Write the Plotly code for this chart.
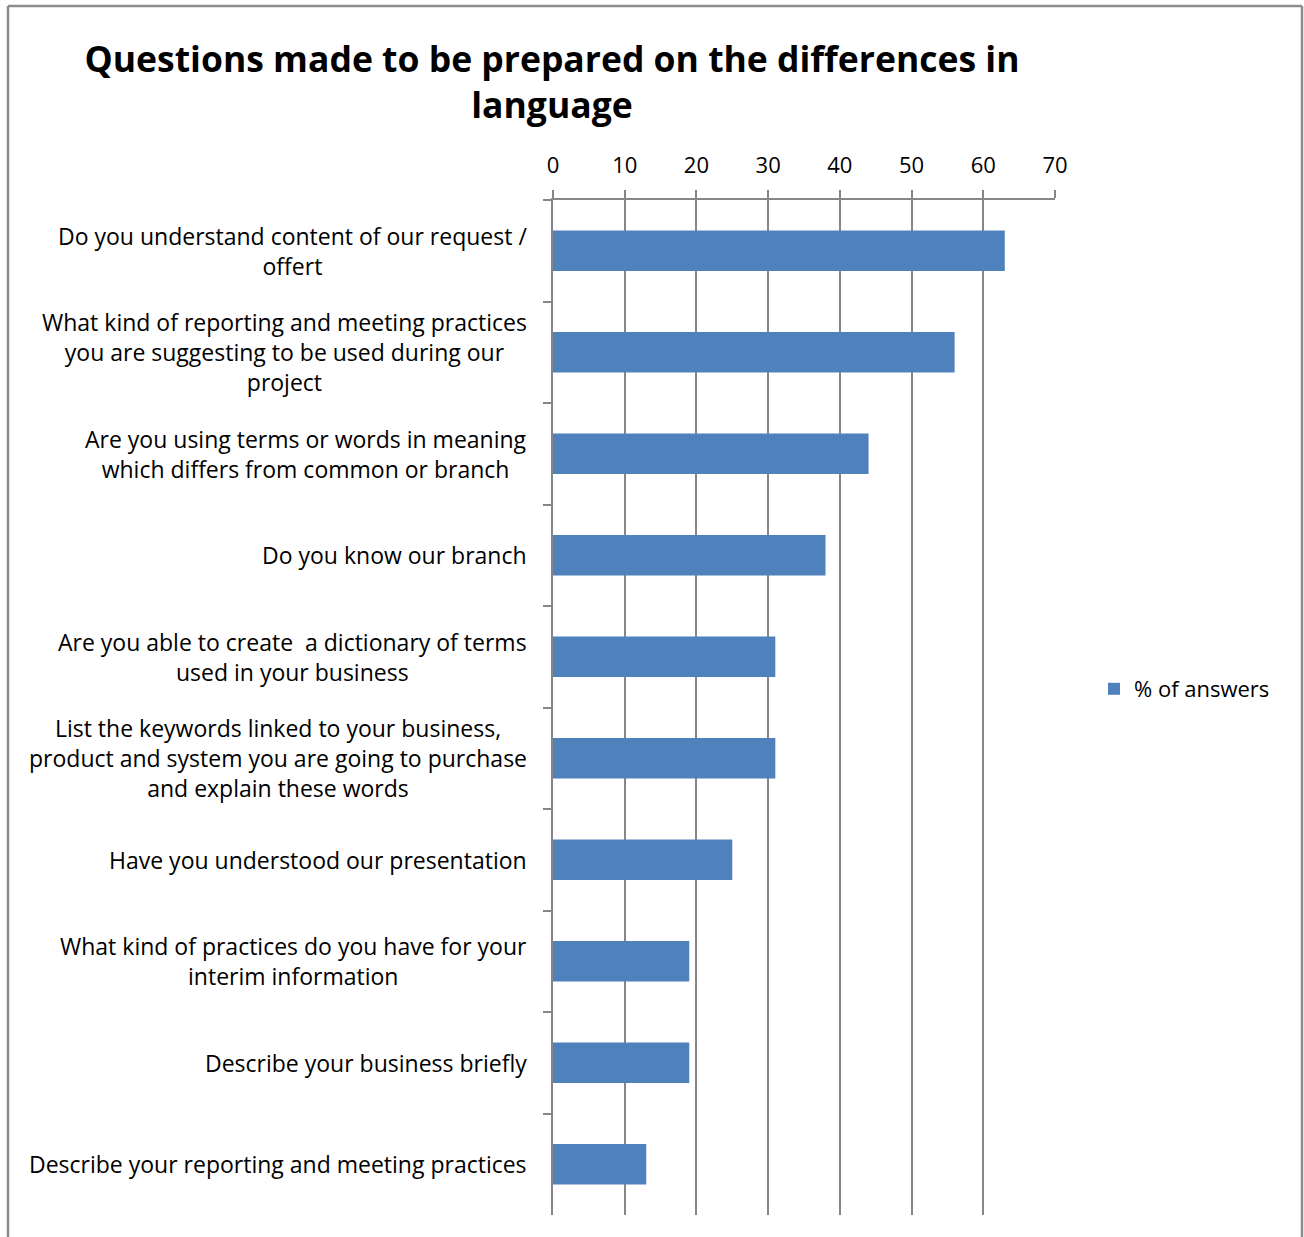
import plotly.graph_objects as go

# Survey questions (top to bottom) and share of answers in %
questions = [
    "Do you understand content of our request /<br>offert",
    "What kind of reporting and meeting practices<br>you are suggesting to be used during our<br>project",
    "Are you using terms or words in meaning<br>which differs from common or branch",
    "Do you know our branch",
    "Are you able to create  a dictionary of terms<br>used in your business",
    "List the keywords linked to your business,<br>product and system you are going to purchase<br>and explain these words",
    "Have you understood our presentation",
    "What kind of practices do you have for your<br>interim information",
    "Describe your business briefly",
    "Describe your reporting and meeting practices",
]
answers = [63, 56, 44, 38, 31, 31, 25, 19, 19, 13]
x_ticks = [0, 10, 20, 30, 40, 50, 60, 70]

W, H = 1304, 1237
L, R, T, B = 553, 249, 200, 22
pw, ph = W - L - R, H - T - B

FONT = "Open Sans"
GRID = "#868686"

fig = go.Figure()
fig.add_trace(go.Bar(
    x=answers, y=questions, orientation="h",
    name="% of answers",
    marker=dict(color="#4F81BD", line=dict(width=0)),
))

# Category labels: right-aligned block, lines centred inside it
annotations = []
for q in questions:
    annotations.append(dict(
        x=0, xref="paper", y=q, yref="y",
        text=q, showarrow=False, xanchor="right", yanchor="middle",
        align="center", xshift=-24,
        font=dict(family=FONT, size=23, color="#000000"),
    ))


def px_x(px):
    return (px - L) / pw


def px_y(py):
    return (H - B - py) / ph


# Outer chart frame (left, top, right)
frame = dict(type="line", xref="paper", yref="paper",
             line=dict(color="#8c8c8c", width=2.5))
shapes = [
    dict(frame, x0=px_x(8), x1=px_x(8), y0=px_y(6), y1=px_y(1240)),
    dict(frame, x0=px_x(8), x1=px_x(1302), y0=px_y(6), y1=px_y(6)),
    dict(frame, x0=px_x(1302), x1=px_x(1302), y0=px_y(6), y1=px_y(1240)),
]

fig.update_layout(
    width=W, height=H,
    margin=dict(l=L, r=R, t=T, b=B, autoexpand=False),
    paper_bgcolor="white", plot_bgcolor="white",
    bargap=0.6,
    showlegend=True,
    title=dict(
        text="Questions made to be prepared on the differences in<br>language",
        x=552 / W, xref="container", xanchor="center",
        y=1 - 72 / H, yref="container", yanchor="middle",
        font=dict(family=FONT, size=35.5, color="#000000", weight="bold"),
    ),
    legend=dict(
        xref="container", yref="container",
        x=1094 / W, y=1 - 689 / H, xanchor="left", yanchor="middle",
        font=dict(family=FONT, size=22, color="#000000"),
        itemwidth=30, bgcolor="rgba(0,0,0,0)",
    ),
    xaxis=dict(
        side="top", range=[0, 70], tickvals=x_ticks,
        showgrid=True, gridcolor=GRID, gridwidth=1.5,
        showline=True, linecolor=GRID, linewidth=1.5,
        ticks="outside", ticklen=8, tickcolor=GRID, tickwidth=1.5,
        ticklabelstandoff=8,
        zeroline=False,
        tickfont=dict(family=FONT, size=22, color="#000000"),
        fixedrange=True,
    ),
    yaxis=dict(
        type="category",
        categoryorder="array", categoryarray=questions,
        autorange="reversed",
        showticklabels=False,
        tickson="boundaries",
        ticks="outside", ticklen=8, tickcolor=GRID, tickwidth=1.5,
        showline=True, linecolor=GRID, linewidth=1.5,
        showgrid=False, zeroline=False, fixedrange=True,
    ),
    annotations=annotations,
    shapes=shapes,
)

fig.write_html("out.html")
